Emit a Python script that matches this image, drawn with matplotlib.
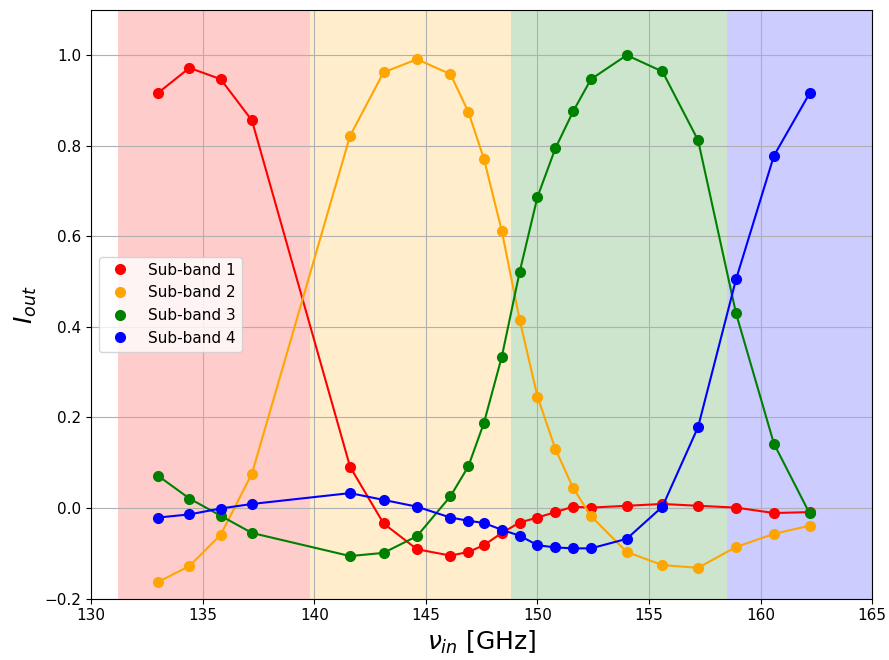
import matplotlib
matplotlib.use("Agg")
import matplotlib.pyplot as plt

# input frequencies [GHz]
freq = [133.0, 134.4, 135.8, 137.2, 141.6, 143.1, 144.6, 146.1, 146.9, 147.6, 148.4,
        149.2, 150.0, 150.8, 151.6, 152.4, 154.0, 155.6, 157.2, 158.9, 160.6, 162.2]

# normalised output per sub-band
band1 = [0.917, 0.972, 0.947, 0.856, 0.091, -0.034, -0.091, -0.105, -0.097, -0.082, -0.055,
         -0.032, -0.021, -0.009, 0.003, 0.001, 0.005, 0.009, 0.005, 0.001, -0.011, -0.009]
band2 = [-0.163, -0.128, -0.059, 0.076, 0.822, 0.962, 0.991, 0.958, 0.875, 0.771, 0.612,
         0.416, 0.246, 0.131, 0.044, -0.018, -0.097, -0.126, -0.132, -0.086, -0.057, -0.039]
band3 = [0.071, 0.021, -0.017, -0.055, -0.106, -0.099, -0.062, 0.026, 0.092, 0.188, 0.334,
         0.521, 0.687, 0.794, 0.876, 0.947, 1.0, 0.964, 0.812, 0.43, 0.142, -0.012]
band4 = [-0.021, -0.014, -0.001, 0.009, 0.033, 0.018, 0.003, -0.021, -0.028, -0.033, -0.048,
         -0.061, -0.082, -0.087, -0.089, -0.089, -0.068, 0.003, 0.179, 0.505, 0.778, 0.916]

# sub-band edges [GHz]
edges = [131.2, 139.8, 148.8, 158.5, 165.0]

labels = ['Sub-band 1', 'Sub-band 2', 'Sub-band 3', 'Sub-band 4']
colors = ['red', 'orange', 'green', 'blue']
series = [band1, band2, band3, band4]

fig, ax = plt.subplots(figsize=(8.89, 6.6), dpi=100)
fig.subplots_adjust(left=0.1027, right=0.981, top=0.985, bottom=0.093)

for i, c in enumerate(colors):
    ax.axvspan(edges[i], edges[i + 1], color=c, alpha=0.2, lw=0)

for y, c, lab in zip(series, colors, labels):
    ax.plot(freq, y, '-', color=c, lw=1.5)
    ax.plot(freq, y, 'o', color=c, ms=7, label=lab)

ax.set_xlim(130, 165)
ax.set_ylim(-0.2, 1.1)
ax.grid(True)
ax.tick_params(labelsize=11)
ax.set_xlabel(r'$\nu_{in}$ [GHz]', fontsize=18)
ax.set_ylabel(r'$I_{out}$', fontsize=18)
ax.legend(loc='center left', fontsize=11)

plt.savefig('out.png')
